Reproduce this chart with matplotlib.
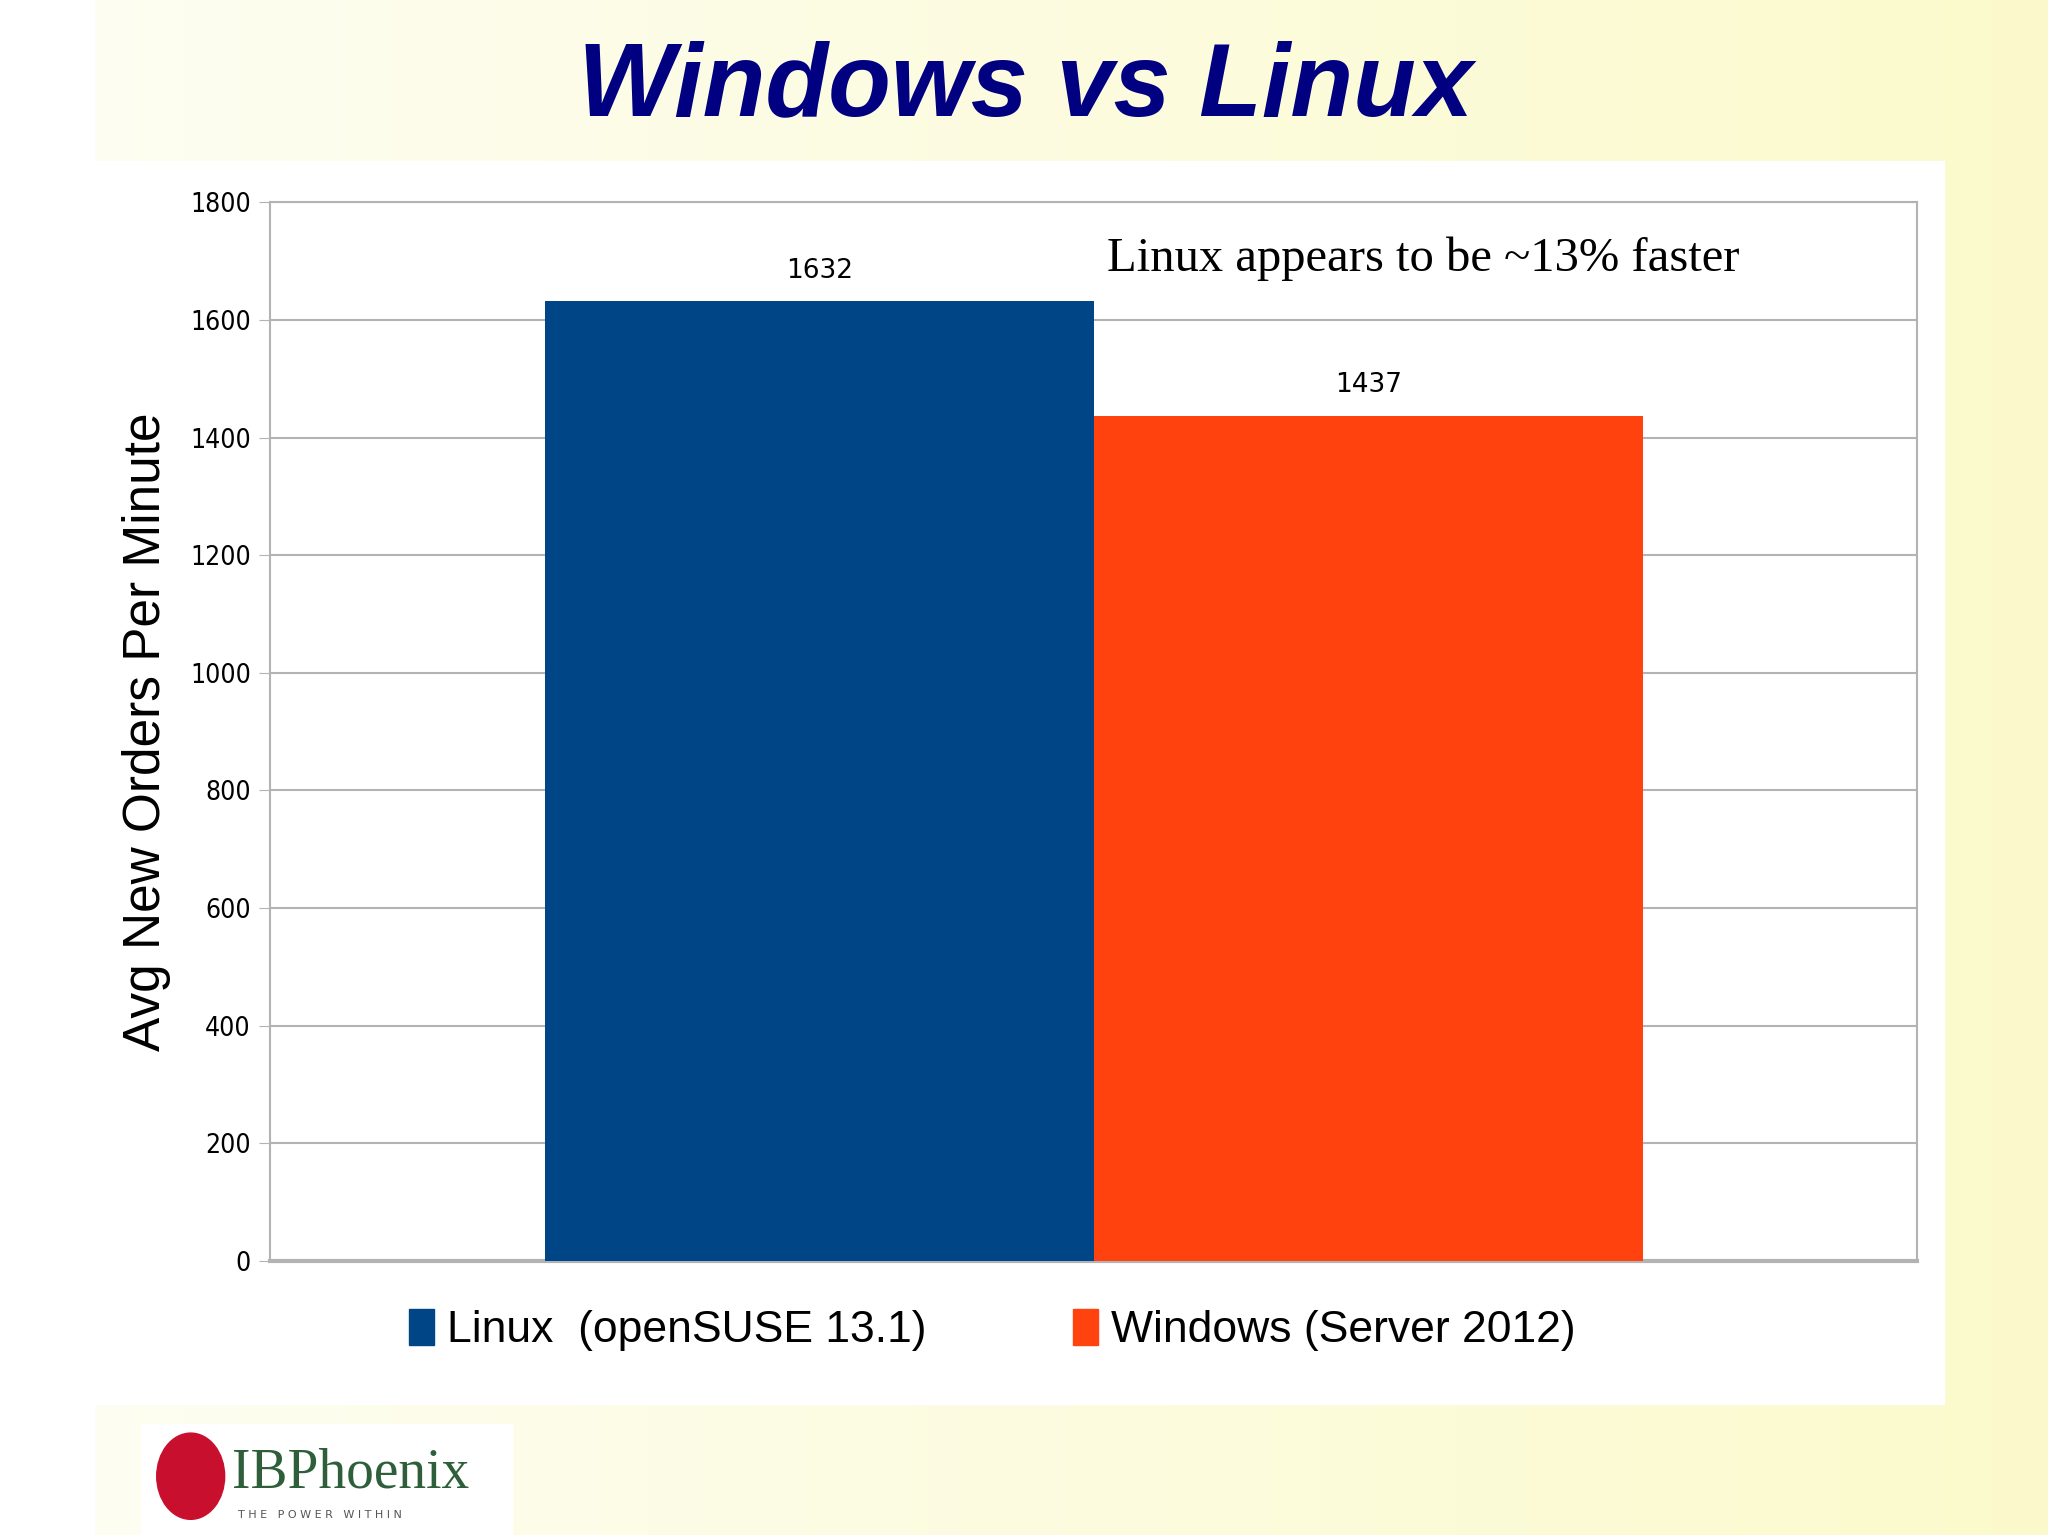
import matplotlib
matplotlib.use("Agg")
import matplotlib.pyplot as plt
import numpy as np
from matplotlib.patches import Rectangle, Ellipse

categories = ["Linux  (openSUSE 13.1)", "Windows (Server 2012)"]
values = [1632, 1437]
colors = ["#004586", "#ff420e"]
yticks = [0, 200, 400, 600, 800, 1000, 1200, 1400, 1600, 1800]

W, H = 1568, 1175
fig = plt.figure(figsize=(20.48, 15.35), dpi=100)

bg = fig.add_axes([0, 0, 1, 1], zorder=-10)
grad = np.linspace(0, 1, 256)[None, :, None]
c1 = np.array([0.995, 0.995, 0.955]); c2 = np.array([0.985, 0.98, 0.80])
img = c1 + (c2 - c1) * grad
img = np.repeat(img, 2, axis=0)
bg.imshow(img, aspect="auto", extent=[0, 1, 0, 1])
bg.set_xlim(0, 1); bg.set_ylim(0, 1); bg.axis("off")
bg.add_patch(Rectangle((72/W, 1-1075/H), (1488-72)/W, (1075-123)/H, color="white"))
bg.add_patch(Rectangle((0, 0), 72/W, 1, color="white"))

fig.text(785/W, 1-68/H, "Windows vs Linux", ha="center", va="center",
         fontsize=74, fontweight="bold", fontstyle="italic", color="#000080",
         family="Liberation Sans")

ax = fig.add_axes([207/W, 1-965/H, (1468-207)/W, (965-155)/H])
x = np.arange(len(values))
ax.bar(x, values, width=1.0, color=colors, zorder=3)
ax.set_xlim(-1, 2)
ax.set_ylim(0, 1800)
ax.set_yticks(yticks)
ax.set_yticklabels([str(t) for t in yticks], fontsize=19, family="DejaVu Sans", stretch="condensed")
ax.tick_params(axis="y", length=8, color="#b3b3b3", pad=6)
ax.set_xticks([])
ax.grid(axis="y", color="#b3b3b3", lw=1.5, zorder=0)
for s in ax.spines.values():
    s.set_color("#b3b3b3"); s.set_linewidth(1.5)
ax.spines["bottom"].set_linewidth(3)
ax.set_ylabel("Avg New Orders Per Minute", fontsize=37, family="Liberation Sans", labelpad=14)
for xi, v in zip(x, values):
    ax.text(xi, v + 30, str(v), ha="center", va="bottom", fontsize=19, family="DejaVu Sans")
ax.text(1.1, 1705, "Linux appears to be ~13% faster", ha="center", va="center",
        fontsize=35, family="Liberation Serif", stretch="condensed")

handles = [Rectangle((0, 0), 1, 1, color=c) for c in colors]
fig.legend(handles, categories, loc="center", bbox_to_anchor=(760/W, 1-1018/H), ncol=2,
           frameon=False, prop={"family": "Liberation Sans", "size": 32},
           handlelength=0.55, handleheight=0.9, handletextpad=0.3, columnspacing=3.3)

bg.add_patch(Rectangle((108/W, 1-1175/H), (392-108)/W, (1175-1090)/H, color="white"))
bg.add_patch(Ellipse((146/W, 1-1130/H), 52/W, 66/H, color="#c8102e"))
fig.text(178/W, 1-1128/H, "IBPhoenix", fontsize=40, family="Liberation Serif",
         color="#2f5f3a", va="center")
fig.text(182/W, 1-1160/H, "T H E   P O W E R   W I T H I N", fontsize=8,
         color="#555555", va="center")

fig.savefig("out.png", dpi=100)
